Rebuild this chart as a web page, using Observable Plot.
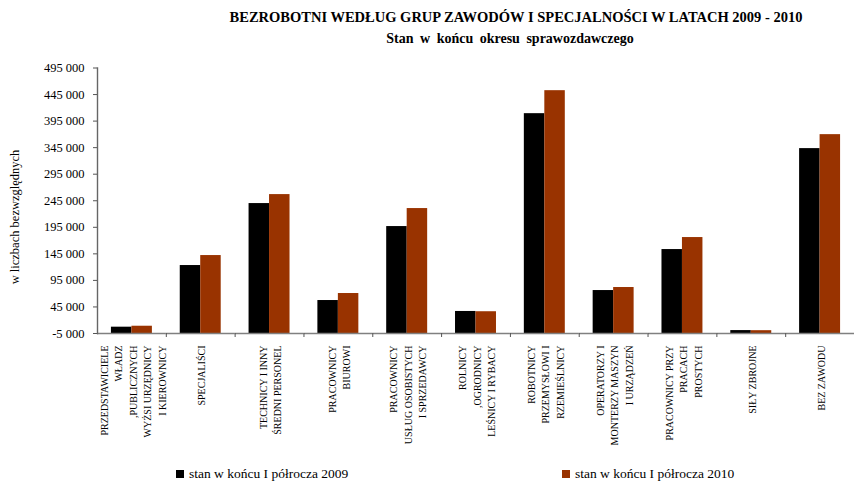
<!DOCTYPE html>
<html>
<head>
<meta charset="utf-8">
<script src="https://cdn.jsdelivr.net/npm/d3@7"></script>
<script src="https://cdn.jsdelivr.net/npm/@observablehq/plot@0.6"></script>
<style>
  html, body { margin: 0; padding: 0; background: #fff; overflow: hidden; }
  #wrap { position: relative; width: 854px; height: 486px; font-family: "Liberation Serif", "Times New Roman", serif; color: #000; }
  #chart { position: absolute; left: 0; top: 0; }
  .title { position: absolute; left: 516px; transform: translateX(-50%); white-space: nowrap; font-weight: bold; }
  #t1 { top: 9px; font-size: 14.5px; }
  #t2 { top: 31px; font-size: 14px; left: 510px; word-spacing: 3px; }
  #ylab { position: absolute; left: 15px; top: 217px; transform: translate(-50%, -50%) rotate(-90deg); white-space: nowrap; font-size: 12.5px; }
  .leg { position: absolute; top: 466px; font-size: 13.5px; white-space: nowrap; display: flex; align-items: center; }
  .sw { width: 8px; height: 8px; display: inline-block; margin-right: 5px; }
</style>
</head>
<body>
<div id="wrap">
  <div id="chart"></div>
  <div class="title" id="t1">BEZROBOTNI WEDŁUG GRUP ZAWODÓW I SPECJALNOŚCI W LATACH 2009 - 2010</div>
  <div class="title" id="t2">Stan w końcu okresu sprawozdawczego</div>
  <div id="ylab">w liczbach bezwzględnych</div>
  <div class="leg" style="left:176px"><span class="sw" style="background:#000000"></span>stan w końcu I półrocza 2009</div>
  <div class="leg" style="left:562px"><span class="sw" style="background:#993300"></span>stan w końcu I półrocza 2010</div>
</div>
<script>
const categories = [
  "PRZEDSTAWICIELE\nWŁADZ\n,PUBLICZNYCH\nWYŻSI URZĘDNICY\nI KIEROWNICY",
  "SPECJALIŚCI",
  "TECHNICY I INNY\nŚREDNI PERSONEL",
  "PRACOWNICY\nBIUROWI",
  "PRACOWNICY\nUSŁUG OSOBISTYCH\nI SPRZEDAWCY",
  "ROLNICY\n,OGRODNICY\nLEŚNICY I RYBACY",
  "ROBOTNICY\nPRZEMYSŁOWI I\nRZEMIEŚLNICY",
  "OPERATORZY I\nMONTERZY MASZYN\nI URZĄDZEŃ",
  "PRACOWNICY PRZY\nPRACACH\nPROSTYCH",
  "SIŁY ZBROJNE",
  "BEZ ZAWODU"
];
const seriesNames = ["2009", "2010"];
const values2009 = [6900, 123000, 239700, 57100, 196400, 36500, 409000, 75900, 153100, 500, 343200];
const values2010 = [8700, 141800, 256600, 70300, 230300, 36000, 452300, 81600, 175700, 300, 369500];
const yTicks = [-5000, 45000, 95000, 145000, 195000, 245000, 295000, 345000, 395000, 445000, 495000];
const colors = ["#000000", "#993300"];

const rows = categories.flatMap((c, i) => [
  {cat: c, series: seriesNames[0], value: values2009[i]},
  {cat: c, series: seriesNames[1], value: values2010[i]}
]);

const fmt = d3.formatLocale({decimal: ".", thousands: " ", grouping: [3], currency: ["", ""], minus: "-"}).format(",d");

const W = 854, ML = 97, MR = 0;
const step = (W - ML - MR) / categories.length;

const chart = Plot.plot({
  width: W,
  height: 486,
  marginLeft: ML,
  marginRight: MR,
  marginTop: 67.5,
  marginBottom: 153,
  style: {fontFamily: "Liberation Serif, Times New Roman, serif", fontSize: "12.5px", background: "#fff", color: "#000"},
  fx: {domain: categories, padding: 0, round: false, label: null},
  x: {domain: seriesNames, paddingInner: 0, paddingOuter: 0.68, round: false, axis: null},
  y: {domain: [-5000, 495000]},
  color: {domain: seriesNames, range: colors},
  marks: [
    Plot.barY(rows, {fx: "cat", x: "series", y1: -5000, y2: "value", fill: "series"}),
    Plot.ruleY([-5000], {stroke: "#808080", strokeWidth: 1.3}),
    Plot.frame({anchor: "left", facetAnchor: "left", stroke: "#666666", strokeWidth: 1.4}),
    Plot.axisY({ticks: yTicks, tickFormat: fmt, tickSize: 4, tickPadding: 9, label: null, stroke: "#555", fontSize: 12.5}),
    Plot.axisFx({anchor: "bottom", tickSize: 4, tickFormat: () => "", dx: step / 2, stroke: "#555", label: null}),
    Plot.text(categories, {
      fx: d => d, text: d => d, frameAnchor: "bottom", dy: 12,
      rotate: -90, textAnchor: "end", lineAnchor: "middle", lineHeight: 1.45, fontSize: 10
    })
  ]
});
document.getElementById("chart").appendChild(chart);
</script>
</body>
</html>
